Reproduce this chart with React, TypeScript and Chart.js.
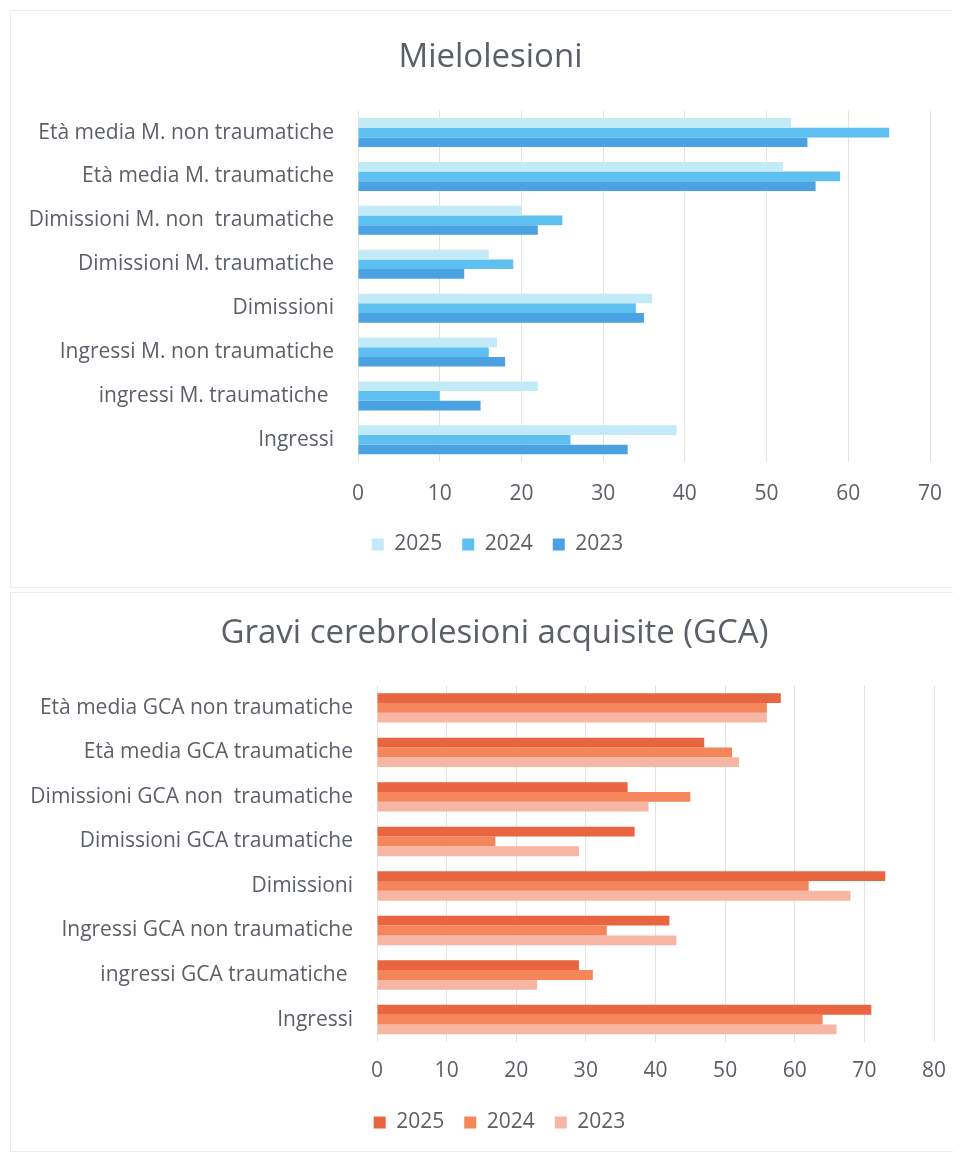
import React, { useEffect, useRef } from "react";
import { Chart, registerables } from "chart.js";
Chart.register(...registerables);

const years = ["2025", "2024", "2023"];

const mieloCategories = [
  "Età media M. non traumatiche",
  "Età media M. traumatiche",
  "Dimissioni M. non  traumatiche",
  "Dimissioni M. traumatiche",
  "Dimissioni",
  "Ingressi M. non traumatiche",
  "ingressi M. traumatiche ",
  "Ingressi",
];
const mielo2025 = [53, 52, 20, 16, 36, 17, 22, 39];
const mielo2024 = [65, 59, 25, 19, 34, 16, 10, 26];
const mielo2023 = [55, 56, 22, 13, 35, 18, 15, 33];
const mieloColors = ["#c2ebf7", "#5dc0f0", "#4aa2e2"];

const gcaCategories = [
  "Età media GCA non traumatiche",
  "Età media GCA traumatiche",
  "Dimissioni GCA non  traumatiche",
  "Dimissioni GCA traumatiche",
  "Dimissioni",
  "Ingressi GCA non traumatiche",
  "ingressi GCA traumatiche ",
  "Ingressi",
];
const gca2025 = [58, 47, 36, 37, 73, 42, 29, 71];
const gca2024 = [56, 51, 45, 17, 62, 33, 31, 64];
const gca2023 = [56, 52, 39, 29, 68, 43, 23, 66];
const gcaColors = ["#e8653f", "#f5855a", "#f6b6a3"];

const FONT = "'Open Sans', Lato, sans-serif";
const TEXT = "#5b5f66";

type Props = {
  title: string;
  labels: string[];
  series: number[][];
  colors: string[];
  max: number;
  width: number;
  height: number;
  axisWidth: number;
  titleTop: number;
  titleBottom: number;
  rightPad: number;
  bottomPad: number;
  titleShift: number;
  legendShift: number;
  tickPad: number;
  axisShrink: number;
};

function BarChart(p: Props) {
  const ref = useRef<HTMLCanvasElement | null>(null);
  useEffect(() => {
    if (!ref.current) return;
    const shiftPlugin = {
      id: "shiftBlocks",
      afterLayout(chart: any) {
        if (chart.legend) {
          chart.legend.left += p.legendShift;
          chart.legend.right += p.legendShift;
        }
        if (chart.titleBlock) {
          chart.titleBlock.left += p.titleShift;
          chart.titleBlock.right += p.titleShift;
        }
      },
    };
    const chart = new Chart(ref.current, {
      type: "bar",
      data: {
        labels: p.labels,
        datasets: years.map((y, i) => ({
          label: y,
          data: p.series[i],
          backgroundColor: p.colors[i],
          borderWidth: 0,
          barPercentage: 1,
          categoryPercentage: 0.66,
        })),
      },
      plugins: [shiftPlugin],
      options: {
        indexAxis: "y",
        responsive: false,
        animation: false,
        layout: { padding: { right: p.rightPad, bottom: p.bottomPad, left: 0, top: 0 } },
        plugins: {
          title: {
            display: true,
            text: p.title,
            color: TEXT,
            font: { family: FONT, size: 33, weight: "normal" },
            padding: { top: p.titleTop, bottom: p.titleBottom },
          },
          legend: {
            position: "bottom",
            labels: {
              color: TEXT,
              font: { family: FONT, size: 21 },
              boxWidth: 12,
              boxHeight: 12,
              padding: 20,
            },
          },
          tooltip: { enabled: false },
        },
        scales: {
          x: {
            min: 0,
            max: p.max,
            ticks: { stepSize: 10, color: TEXT, font: { family: FONT, size: 21 }, padding: p.tickPad },
            grid: { color: "#e3e3e3", drawTicks: false },
            border: { display: false },
            afterFit: (scale: any) => {
              scale.height -= p.axisShrink;
              scale.paddingRight = 0;
            },
          },
          y: {
            ticks: { color: TEXT, font: { family: FONT, size: 21 }, padding: 16, autoSkip: false },
            grid: { display: false },
            border: { display: false },
            afterFit: (scale: any) => {
              scale.width = p.axisWidth;
            },
          },
        },
      },
    });
    return () => chart.destroy();
  }, []);
  return <canvas ref={ref} width={p.width} height={p.height} />;
}

export default function App() {
  return (
    <div style={{ position: "relative", width: 945, height: 1144, background: "#fff" }}>
      <div style={{ position: "absolute", left: 2, top: 2, width: 945, height: 578, border: "1px solid #ececec", boxSizing: "border-box" }}>
        <BarChart
          title="Mielolesioni"
          labels={mieloCategories}
          series={[mielo2025, mielo2024, mielo2023]}
          colors={mieloColors}
          max={70}
          width={943}
          height={576}
          axisWidth={347}
          titleTop={27}
          titleBottom={33}
          rightPad={24}
          bottomPad={22}
          titleShift={20}
          legendShift={27}
          tickPad={20}
          axisShrink={13}
        />
      </div>
      <div style={{ position: "absolute", left: 2, top: 584, width: 945, height: 560, border: "1px solid #ececec", boxSizing: "border-box" }}>
        <BarChart
          title="Gravi cerebrolesioni acquisite (GCA)"
          labels={gcaCategories}
          series={[gca2025, gca2024, gca2023]}
          colors={gcaColors}
          max={80}
          width={943}
          height={558}
          axisWidth={366}
          titleTop={21}
          titleBottom={32}
          rightPad={20}
          bottomPad={8}
          titleShift={22}
          legendShift={27}
          tickPad={17}
          axisShrink={9}
        />
      </div>
    </div>
  );
}
